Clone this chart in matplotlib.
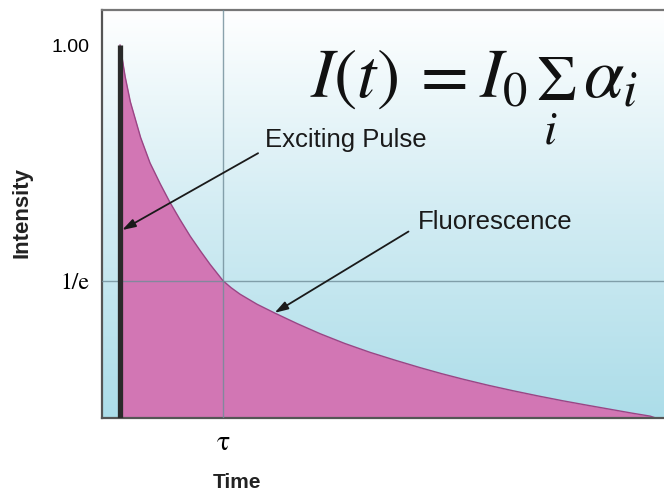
import numpy as np
import matplotlib.pyplot as plt
from matplotlib.colors import LinearSegmentedColormap

plt.rcParams['mathtext.fontset'] = 'stix'

# decay curve, time in units of tau
t_tau = [0.0, 0.05, 0.1, 0.2, 0.291, 0.39, 0.485, 0.58, 0.68, 0.78, 0.874,
         1.0, 1.08, 1.165, 1.33, 1.505, 1.72, 1.942, 2.18, 2.427, 2.67, 2.913,
         3.12, 3.33, 3.57, 3.816, 4.06, 4.301, 4.54, 4.786, 4.97, 5.146, 5.2]
intensity = [1.0, 0.915, 0.848, 0.752, 0.684, 0.628, 0.578, 0.533, 0.488, 0.448, 0.412,
             0.368, 0.349, 0.332, 0.305, 0.281, 0.253, 0.226, 0.2, 0.176, 0.155, 0.135,
             0.119, 0.104, 0.088, 0.073, 0.059, 0.046, 0.034, 0.022, 0.013, 0.005, 0.0]

pulse_time = 0.0
pulse_height = 1.0
tau = 1.0
inv_e = 1 / np.e

ytick_vals = [1.0, inv_e]
ytick_labels = ['1.00', '1/e']
xtick_vals = [tau]
xtick_labels = ['τ']

W, H = 664, 497
fig = plt.figure(figsize=(W / 100, H / 100), dpi=100)
ax = fig.add_axes([102 / W, (H - 418) / H, 1 - 102 / W, 408 / H])

xlim = (-0.175, 5.28)
ylim = (0.0, 1.094)
ax.set_xlim(xlim)
ax.set_ylim(ylim)

# background gradient, white on top to light cyan at the bottom
grad = np.linspace(1, 0, 256).reshape(-1, 1)
cmap = LinearSegmentedColormap.from_list('bg', ['#acdde9', '#d2ecf3', '#ffffff'])
ax.imshow(grad, extent=[xlim[0], xlim[1], ylim[0], ylim[1]], aspect='auto',
          cmap=cmap, origin='upper', zorder=0)

# fluorescence decay
ax.fill_between(t_tau, intensity, 0, color='#d276b4', zorder=2, linewidth=0)
ax.plot(t_tau, intensity, color='#9a4585', lw=1.0, zorder=2.5)

# guide lines at tau and 1/e
ax.axhline(inv_e, color='#6f8c98', lw=1, alpha=0.8, zorder=3)
ax.axvline(tau, color='#6f8c98', lw=1, alpha=0.8, zorder=3)

# exciting pulse
ax.vlines(pulse_time, 0, pulse_height, color='#2a2a2a', lw=3.8, zorder=4)

# spines and ticks
for s in ['left', 'bottom']:
    ax.spines[s].set_color('#555555')
    ax.spines[s].set_linewidth(1.6)
ax.spines['top'].set_color('#777777')
ax.spines['top'].set_linewidth(1.6)
ax.spines['right'].set_visible(False)

ax.set_yticks(ytick_vals)
ax.set_yticklabels(ytick_labels)
ax.set_xticks(xtick_vals)
ax.set_xticklabels(xtick_labels)
ax.tick_params(length=0, pad=9)
ylabs = ax.get_yticklabels()
ylabs[0].set_fontfamily('Liberation Sans')
ylabs[0].set_fontsize(14)
ylabs[1].set_fontfamily('STIXGeneral')
ylabs[1].set_fontsize(17)
for lab in ax.get_xticklabels():
    lab.set_fontfamily('STIXGeneral')
    lab.set_fontsize(20)

fig.text(22 / W, 1 - 212 / H, 'Intensity', rotation=90, ha='center', va='center',
         fontsize=16, fontweight='bold', family='Liberation Sans', color='#222222')
fig.text(237 / W, 1 - 483 / H, 'Time', ha='center', va='center',
         fontsize=15, fontweight='bold', family='Liberation Sans', color='#222222')

# annotations
arrow = dict(arrowstyle='-|>,head_width=0.25,head_length=0.8', color='#1a1a1a', lw=1.3,
             shrinkA=0, shrinkB=0)
ax.annotate('', xy=(0.02, 0.504), xytext=(1.34, 0.71), arrowprops=arrow, zorder=5)
ax.text(1.41, 0.745, 'Exciting Pulse', ha='left', va='center', fontsize=18.5,
        family='Liberation Sans', color='#1a1a1a', zorder=5)
ax.annotate('', xy=(1.5, 0.282), xytext=(2.8, 0.50), arrowprops=arrow, zorder=5)
ax.text(2.89, 0.525, 'Fluorescence', ha='left', va='center', fontsize=18.5,
        family='Liberation Sans', color='#1a1a1a', zorder=5)

# formula, set piece by piece so the small sum sign matches the original
def ftext(x, y, s, size, **kw):
    fig.text(x / W, 1 - y / H, s, fontsize=size, color='#111111', **kw)

ftext(310, 97, r'$I(t)$', 50, ha='left', va='baseline')
ftext(421, 97, '=', 50, ha='left', va='baseline', family='STIXGeneral')
ftext(479, 97, r'$I_0$', 50, ha='left', va='baseline')
ftext(556, 100, 'Σ', 46, ha='center', va='baseline', family='STIXGeneral')
ftext(550, 144, r'$i$', 34, ha='center', va='baseline')
ftext(583, 97, r'$\alpha_i$', 52, ha='left', va='baseline')

fig.savefig('out.png', dpi=100)
